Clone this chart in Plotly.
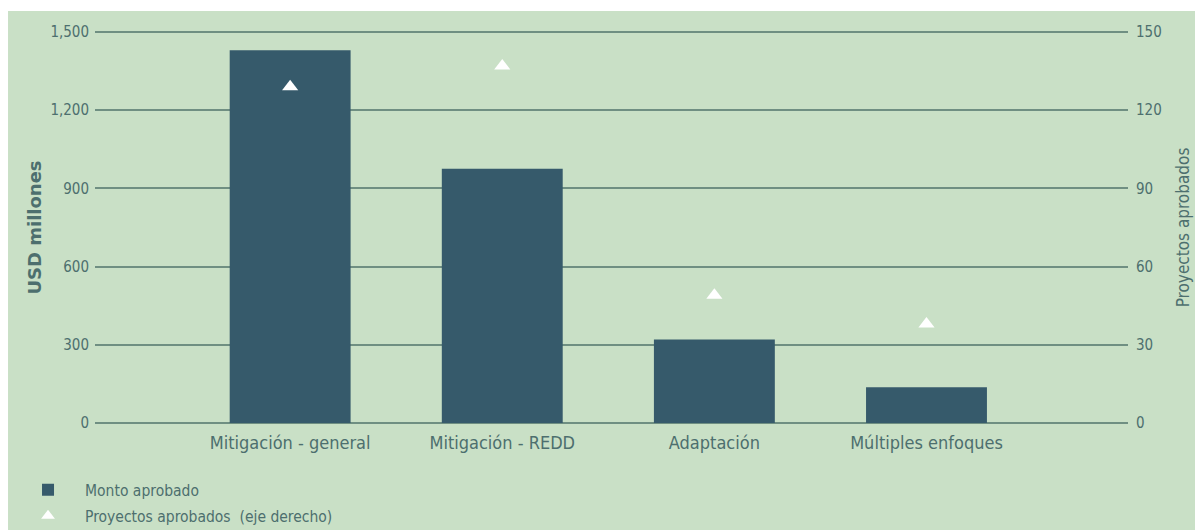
import plotly.graph_objects as go

categories = ["Mitigación - general", "Mitigación - REDD", "Adaptación", "Múltiples enfoques"]
monto_aprobado = [1430, 975, 320, 137]
proyectos_aprobados = [129, 137, 49, 38]

left_ticks = [0, 300, 600, 900, 1200, 1500]
right_ticks = [0, 30, 60, 90, 120, 150]

BG = "#c9e0c6"
BAR = "#365a6b"
GRID = "#6f8f82"
TXT = "#4d6f6e"
FONT = "DejaVu Sans Condensed, Liberation Sans Narrow, Arial Narrow, sans-serif"

fig = go.Figure()
fig.add_trace(go.Bar(
    x=categories, y=monto_aprobado, name="Monto aprobado", legendgroup="a",
    marker=dict(color=BAR, line=dict(width=0)), width=0.57, yaxis="y",
))
fig.add_trace(go.Scatter(
    x=categories, y=proyectos_aprobados, name="Proyectos aprobados  (eje derecho)",
    legendgroup="b",
    mode="markers", marker=dict(symbol="triangle-up", color="white", size=14,
                                line=dict(width=0)),
    yaxis="y2",
))

fig.update_layout(
    width=1195, height=530,
    margin=dict(l=95, r=67, t=31, b=106, autoexpand=False),
    paper_bgcolor="white", plot_bgcolor="rgba(0,0,0,0)",
    font=dict(family=FONT, color=TXT, size=12),
    showlegend=True,
    legend=dict(x=-0.0813, y=-0.125, xanchor="left", yanchor="top",
                bgcolor="rgba(0,0,0,0)", font=dict(size=15.5, color=TXT),
                traceorder="grouped", tracegroupgap=3, itemwidth=64,
                itemsizing="constant"),
    xaxis=dict(range=[-0.92, 3.95], showgrid=False, zeroline=False, showline=False,
               ticks="", tickfont=dict(size=18, color=TXT), ticklabelstandoff=6),
    yaxis=dict(range=[-4, 1504], tickvals=left_ticks, tickformat=",",
               showgrid=True, gridcolor=GRID, gridwidth=2, zeroline=False,
               showline=False, ticks="", tickfont=dict(size=15, color=TXT),
               ticklabelstandoff=5,
               title=dict(text="<b>USD millones</b>", font=dict(size=18, color=TXT,
                          family="DejaVu Sans, sans-serif"), standoff=4)),
    yaxis2=dict(range=[-0.4, 150.4], tickvals=right_ticks, overlaying="y", side="right",
                showgrid=False, zeroline=False, showline=False, ticks="",
                tickfont=dict(size=15, color=TXT), ticklabelstandoff=7,
                title=dict(text="Proyectos aprobados", font=dict(size=17, color=TXT), standoff=16)),
    shapes=[dict(type="rect", xref="paper", yref="paper", x0=-0.0842, x1=1.07,
                 y0=-0.28, y1=1.051, fillcolor=BG, line=dict(width=0), layer="below")],
)

fig.write_html("out.html")
